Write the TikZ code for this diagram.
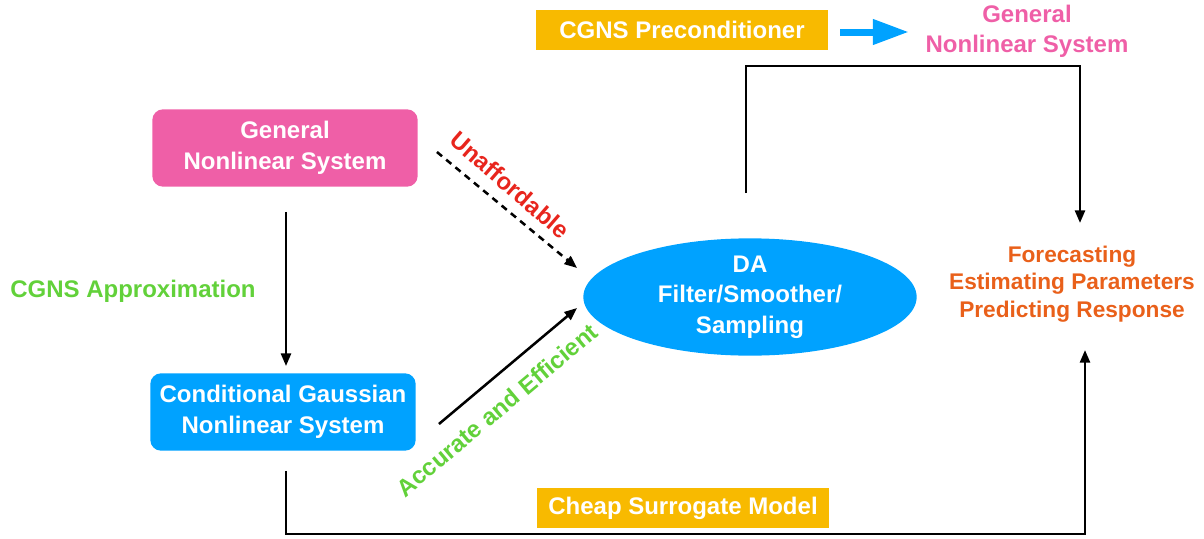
\documentclass[tikz,border=0pt]{standalone}
\usepackage{fontspec}
\setmainfont{Liberation Sans}
\usetikzlibrary{positioning,arrows.meta,shapes.geometric,calc}

\definecolor{gnspink}{HTML}{EF5FA7}
\definecolor{cgblue}{HTML}{00A2FF}
\definecolor{tagorange}{HTML}{F8BA00}
\definecolor{txtgreen}{HTML}{62D13A}
\definecolor{txtred}{HTML}{E8251D}
\definecolor{txtorange}{HTML}{E9601A}

\tikzset{
  bigtext/.style={font=\bfseries\fontsize{18}{23}\selectfont},
  sysbox/.style={bigtext, rounded corners=8pt, text=white, align=center,
    minimum width=199pt, minimum height=58pt, inner sep=0pt},
  tagbox/.style={bigtext, fill=tagorange, text=white,
    minimum width=219pt, minimum height=30pt, inner sep=0pt},
  arr/.style={line width=1.9pt, -{Triangle[length=9.5pt,width=7.5pt]}},
  bigarrow/.style={cgblue, line width=5.25pt, -{Triangle[length=27pt,width=18pt]}}
}

\begin{document}
\begin{tikzpicture}[x=0.75pt, y=-0.75pt]
  \useasboundingbox (0,0) rectangle (1204,539);

  % boxes and ellipse
  \node[sysbox, fill=gnspink] (gns) at (285,148) {General\\Nonlinear System};
  \node[sysbox, fill=cgblue] (cgns) at (283,412) {Conditional Gaussian\\Nonlinear System};
  \node[ellipse, fill=cgblue, text=white, bigtext, align=center,
    minimum width=250pt, minimum height=86pt, inner sep=0pt] (da) at (750,297)
    {DA\\Filter/Smoother/\\Sampling};

  % texts
  \node[bigtext, text=txtgreen] (approx) at (133,291) {CGNS Approximation};
  \node[font=\bfseries\fontsize{17}{20.6}\selectfont, text=txtorange, align=center]
    (goals) at (1072,284) {Forecasting\\Estimating Parameters\\Predicting Response};
  \node[tagbox] (precond) at (682,30) {CGNS Preconditioner};
  \node[tagbox] (surrogate) at (683,508) {Cheap Surrogate Model};
  \node[font=\bfseries\fontsize{18}{22.5}\selectfont, text=gnspink, align=center]
    (gntop) at (1027,31) {General\\Nonlinear System};
  \node[bigtext, text=txtred, rotate=-41] (unaff) at (510,185) {Unaffordable};
  \node[bigtext, text=txtgreen, rotate=40] (accef) at (497,410) {Accurate and Efficient};

  % connectors
  \draw[arr] ($(gns.south)+(1,25)$) -- ($(gns.south |- cgns.north)+(1,-7)$);
  \draw[arr, dash pattern=on 5pt off 4pt]
    ($(gns.east)+(19,4)$) -- ($(da.west)+(-6,-29)$);
  \draw[arr] ($(cgns.east)+(23,12)$) -- ($(da.west)+(-6,11)$);
  \draw[arr] ($(da.north)+(-4,-45)$) -- ++(0,-127) -| ($(goals.center)+(8,-61)$);
  \draw[arr] ($(cgns.south)+(3,20)$) -- ++(0,63) -| ($(goals.center)+(13,66)$);
  \draw[bigarrow] ($(precond.east)+(12,2)$) -- ($(gntop.west)+(-12,1)$);
\end{tikzpicture}
\end{document}
